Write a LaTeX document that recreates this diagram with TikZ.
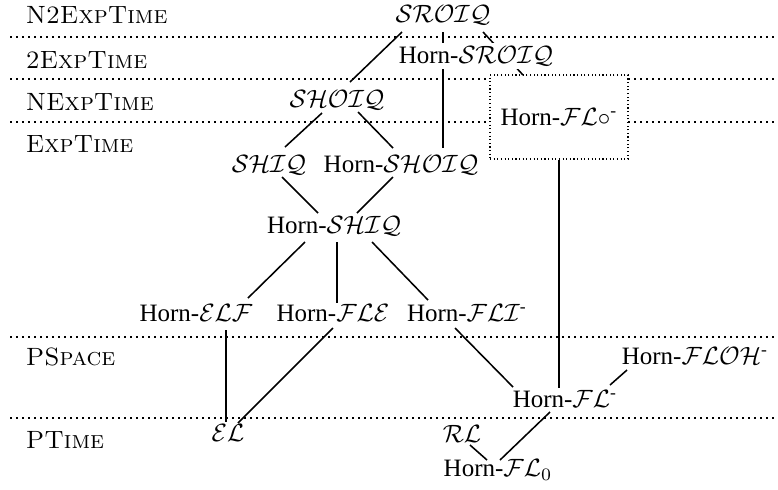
\documentclass[tikz,border=0pt]{standalone}
\usepackage{fontspec}
\newfontfamily\timesfont{Liberation Serif}
\usetikzlibrary{positioning}

\tikzset{
	dl/.style={font=\timesfont, inner sep=0pt},
	cls/.style={anchor=west, inner sep=0pt},
	levelline/.style={line width=0.7pt, dash pattern=on 0.7pt off 1.7pt},
}
\newcommand{\minus}{\textsuperscript{-}}

\begin{document}
\begin{tikzpicture}[x=0.4pt, y=-0.4pt, line width=0.62pt]
		\useasboundingbox (0,0) rectangle (778,489);

		% complexity levels
		\foreach \y in {37,79,122,337,418}
			\draw [levelline] (10,\y) -- (778,\y);
		\draw (25,15) node [cls] (n2exp) {\textsc{N2ExpTime}};
		\draw (25,60) node [cls] (twoexp) {\textsc{2ExpTime}};
		\draw (25,102) node [cls] (nexp) {\textsc{NExpTime}};
		\draw (25,144) node [cls] (exp) {\textsc{ExpTime}};
		\draw (25,357) node [cls] (pspace) {\textsc{PSpace}};
		\draw (25,440) node [cls] (ptime) {\textsc{PTime}};

		% logics
		\draw (443,15) node [dl] (sroiq) {$\mathcal{SROIQ}$};
		\draw (337,100) node [dl] (shoiq) {$\mathcal{SHOIQ}$};
		\draw (559,117) node [dl, draw, densely dotted, line width=0.45pt, fill=white, minimum width=55.2pt, minimum height=33.6pt] (hflc) {Horn-$\mathcal{FL}\circ$\minus};
		\draw (269,165) node [dl] (shiq) {$\mathcal{SHIQ}$};
		\draw (401,165) node [dl] (hshoiq) {Horn-$\mathcal{SHOIQ}$};
		\draw (334,226) node [dl] (hshiq) {Horn-$\mathcal{SHIQ}$};
		\draw (196,313) node [dl] (helf) {Horn-$\mathcal{ELF}$};
		\draw (333,313) node [dl] (hfle) {Horn-$\mathcal{FLE}$};
		\draw (467,313) node [dl] (hfli) {Horn-$\mathcal{FLI}$\minus};
		\draw (695,356) node [dl] (hfloh) {Horn-$\mathcal{FLOH}$\minus};
		\draw (565,399) node [dl] (hfl) {Horn-$\mathcal{FL}$\minus};
		\draw (228,433) node [dl] (el) {$\mathcal{EL}$};
		\draw (462,434) node [dl] (rl) {$\mathcal{RL}$};
		\draw (498,470) node [dl] (hflz) {Horn-$\mathcal{FL}_0$};

		\draw
			([shift={(-41,17)}]sroiq.center) edge ([shift={(13,-18)}]shoiq.center)
			([shift={(0,17)}]sroiq.center) edge ([shift={(42,-17)}]hshoiq.center)
			([shift={(40,17)}]sroiq.center) edge ([shift={(-36,-42)}]hflc.center)
			([shift={(-15,13)}]shoiq.center) edge ([shift={(16,-18)}]shiq.center)
			([shift={(21,12)}]shoiq.center) edge ([shift={(-8,-17)}]hshoiq.center)
			([shift={(13,12)}]shiq.center) edge ([shift={(-16,-13)}]hshiq.center)
			([shift={(-8,12)}]hshoiq.center) edge ([shift={(23,-13)}]hshiq.center)
			([shift={(-29,16)}]hshiq.center) edge ([shift={(52,-15)}]helf.center)
			([shift={(3,16)}]hshiq.center) edge ([shift={(4,-10)}]hfle.center)
			([shift={(38,16)}]hshiq.center) edge ([shift={(-39,-13)}]hfli.center)
			([shift={(30,17)}]helf.center) edge ([shift={(-2,-11)}]el.center)
			([shift={(0,15)}]hfle.center) edge ([shift={(10,-10)}]el.center)
			([shift={(-12,15)}]hfli.center) edge ([shift={(-52,-12)}]hfl.center)
			(hflc.south) edge ([shift={(-6,-11)}]hfl.center)
			([shift={(-68,14)}]hfloh.center) edge ([shift={(45,-14)}]hfl.center)
			([shift={(-15,13)}]hfl.center) edge ([shift={(2,-10)}]hflz.center)
			([shift={(8,11)}]rl.center) edge ([shift={(-11,-10)}]hflz.center)
		;

		% drawn last, over the lines from SROIQ
		\draw (476,56) node [dl, fill=white, inner sep=1.2pt] (hsroiq) {Horn-$\mathcal{SROIQ}$};
	\end{tikzpicture}
\end{document}
